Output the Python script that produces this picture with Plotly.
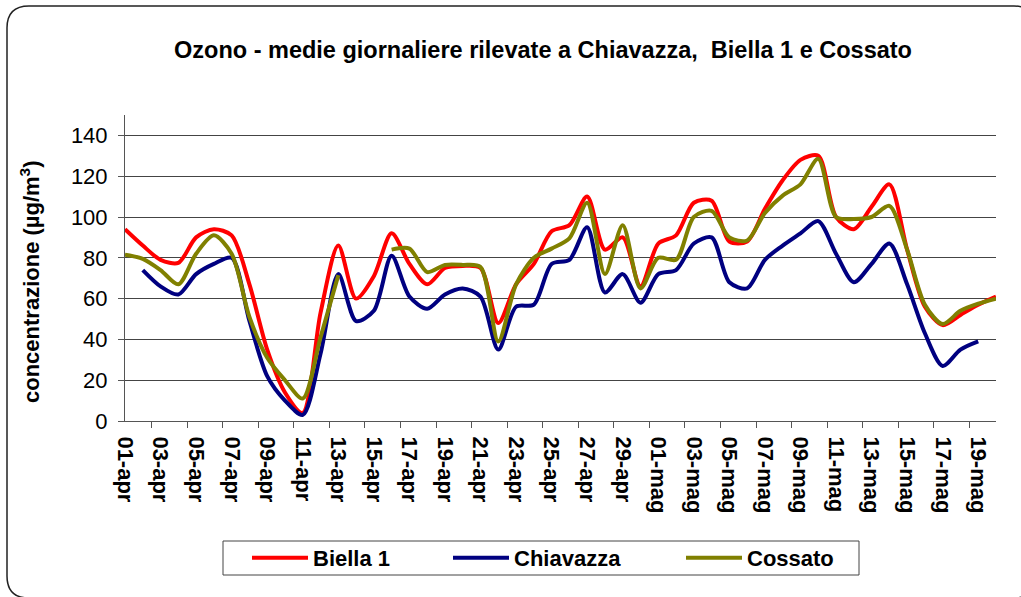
import plotly.graph_objects as go

days = [f"{d:02d}-apr" for d in range(1, 31)] + [f"{d:02d}-mag" for d in range(1, 21)]

biella1 = [94, 86, 79, 77.5, 90, 94, 91, 67, 35, 14,
           4, 53, 86, 60, 71, 92, 77, 67, 75, 76,
           75, 48, 67, 77, 93, 96, 110, 84, 90, 66,
           87, 91, 107, 108, 88, 88, 104, 118, 128, 130,
           100, 94, 105, 116, 84, 56, 47, 52, 57, 61]

chiavazza = [None, 74, 66, 62, 72, 77, 80, 49, 22, 10,
             3, 33, 72, 49, 54, 81, 61, 55, 62, 65,
             61, 35, 56, 57, 77, 79, 95, 63, 72, 58,
             72, 74, 87, 90, 68, 65, 79, 86, 92, 98,
             82, 68, 77, 87, 67, 43, 27, 35, 39, None]

cossato = [81.5, 79.5, 74, 67, 82, 91, 82, 51, 31, 20,
           11, 41, 71.5, None, None, 84, 84.5, 73, 76.5, 76.5,
           75.5, 39, 67, 80, 84.5, 89.5, 107, 72, 96, 65,
           80, 79, 100, 103, 90, 88.5, 102, 110.5, 116, 128.5,
           100, 99, 100, 105.5, 84, 57, 47.5, 54, 57.5, 60]

series = [("Biella 1", biella1, "#FF0000", 130),
          ("Chiavazza", chiavazza, "#000080", 162),
          ("Cossato", cossato, "#808000", 100)]

W, H = 1021, 597
L, R, T, B = 125, 25, 115, 176
PW, PH = W - L - R, H - T - B
FONT = "Arial, 'Liberation Sans', sans-serif"


def fx(px):
    return (px - L) / PW


def fy(py):
    return (H - B - py) / PH


fig = go.Figure()
for name, vals, col, lw in series:
    fig.add_trace(go.Scatter(x=days, y=vals, name=name, mode="lines",
                             line=dict(color=col, width=4, shape="spline", smoothing=0.8),
                             connectgaps=False, legendwidth=lw))

# rounded outer frame of the chart area
x0, y0, x1, y1, r = 7, 6, 1036, 598, 22
path = (f"M{fx(x0 + r)},{fy(y0)} L{fx(x1 - r)},{fy(y0)} Q{fx(x1)},{fy(y0)} {fx(x1)},{fy(y0 + r)} "
        f"L{fx(x1)},{fy(y1 - r)} Q{fx(x1)},{fy(y1)} {fx(x1 - r)},{fy(y1)} "
        f"L{fx(x0 + r)},{fy(y1)} Q{fx(x0)},{fy(y1)} {fx(x0)},{fy(y1 - r)} "
        f"L{fx(x0)},{fy(y0 + r)} Q{fx(x0)},{fy(y0)} {fx(x0 + r)},{fy(y0)} Z")
fig.add_shape(type="path", path=path, xref="paper", yref="paper",
              line=dict(color="#222222", width=1.5), layer="below")

# legend frame
fig.add_shape(type="rect", xref="paper", yref="paper",
              x0=fx(223), x1=fx(859), y0=fy(575), y1=fy(541),
              line=dict(color="#444444", width=1), fillcolor="white", layer="below")

fig.add_annotation(text="concentrazione (µg/m<sup>3</sup>)", textangle=-90,
                   xref="paper", yref="paper", x=fx(30), y=fy(282),
                   xanchor="center", yanchor="middle", showarrow=False,
                   font=dict(family=FONT, size=22, color="black", weight="bold"))

fig.update_layout(
    width=W, height=H,
    margin=dict(l=L, r=R, t=T, b=B),
    paper_bgcolor="white", plot_bgcolor="white",
    font=dict(family=FONT, color="black"),
    title=dict(text="<b>Ozono - medie giornaliere rilevate a Chiavazza,  Biella 1 e Cossato</b>",
               xref="paper", x=fx(543), xanchor="center",
               yref="container", y=1 - 50 / H, yanchor="middle",
               font=dict(family=FONT, size=23.5, color="black")),
    showlegend=True,
    legend=dict(orientation="h", xref="paper", yref="paper",
                x=fx(247), y=fy(558), xanchor="left", yanchor="middle",
                borderwidth=0, bgcolor="rgba(0,0,0,0)",
                font=dict(family=FONT, size=22, color="black", weight="bold"),
                itemwidth=56),
    xaxis=dict(type="category", dtick=2, tickson="boundaries",
               tickangle=90, ticks="outside", ticklen=6, tickcolor="#555555",
               ticklabelstandoff=10,
               showline=True, linecolor="#555555", linewidth=1,
               showgrid=False, zeroline=False,
               tickfont=dict(family=FONT, size=22, color="black", weight="bold")),
    yaxis=dict(range=[0, 150], dtick=20, tick0=0,
               ticks="outside", ticklen=6, tickcolor="#555555",
               ticklabelstandoff=6,
               showline=True, linecolor="#555555", linewidth=1,
               showgrid=True, gridcolor="#444444", gridwidth=1, zeroline=False,
               tickfont=dict(family=FONT, size=22, color="black")),
)

fig.write_html("out.html", config={"displayModeBar": False},
               post_script="document.body.style.margin='0';document.body.style.overflow='hidden';")
